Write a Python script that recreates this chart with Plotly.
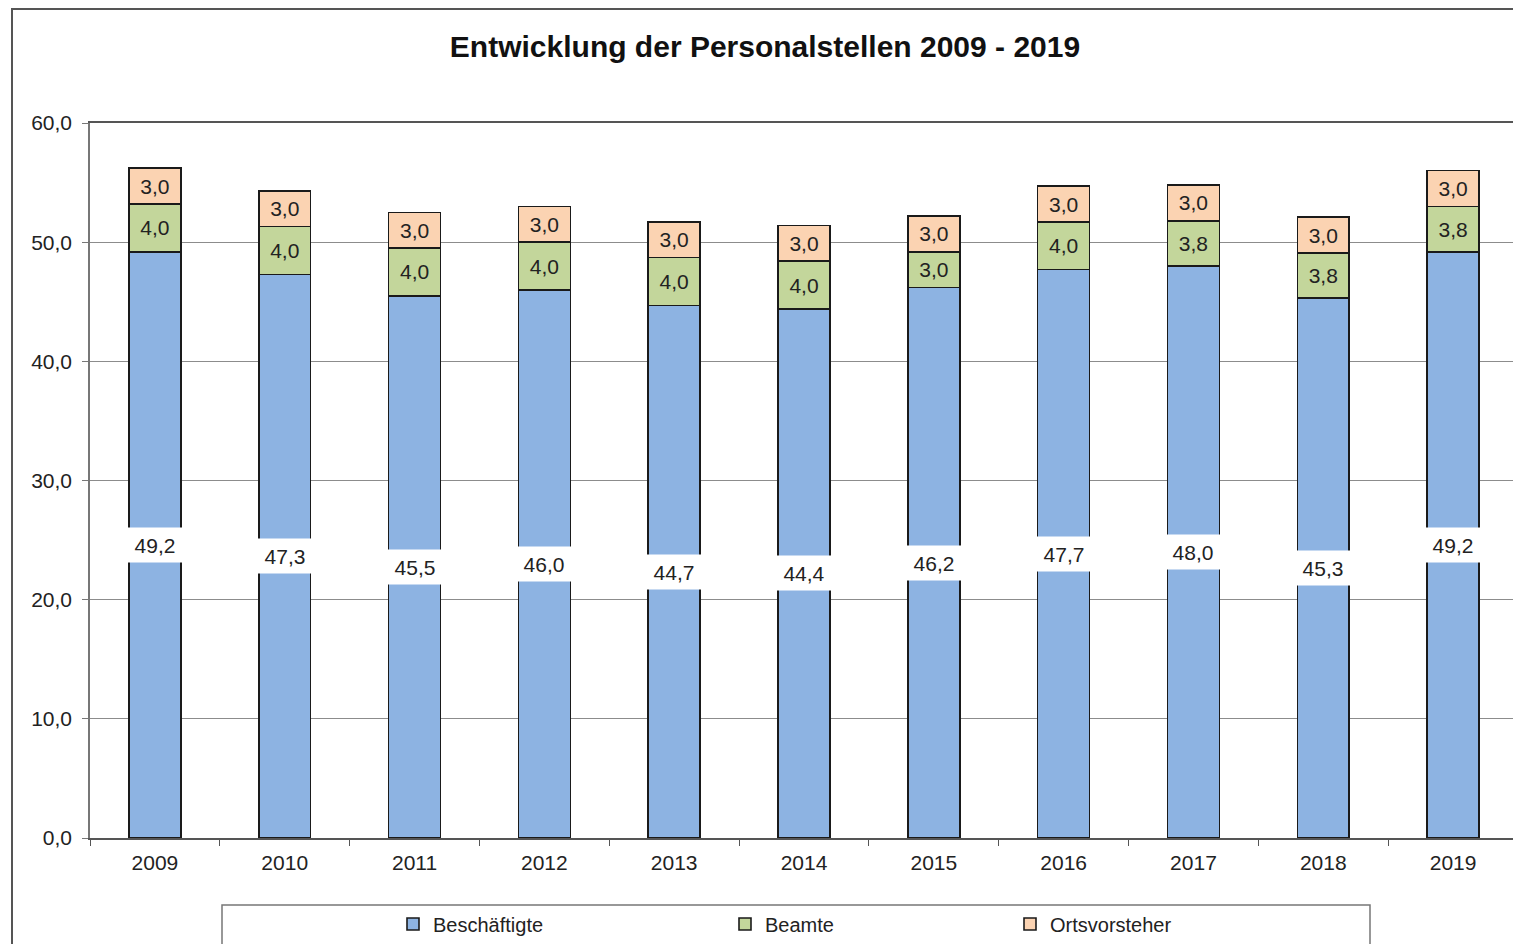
import plotly.graph_objects as go

years = ["2009", "2010", "2011", "2012", "2013", "2014", "2015", "2016", "2017", "2018", "2019"]
beschaeftigte = [49.2, 47.3, 45.5, 46.0, 44.7, 44.4, 46.2, 47.7, 48.0, 45.3, 49.2]
beamte = [4.0, 4.0, 4.0, 4.0, 4.0, 4.0, 3.0, 4.0, 3.8, 3.8, 3.8]
ortsvorsteher = [3.0, 3.0, 3.0, 3.0, 3.0, 3.0, 3.0, 3.0, 3.0, 3.0, 3.0]
y_ticks = [0, 10, 20, 30, 40, 50, 60]

FONT = "Liberation Sans, Arial, sans-serif"
TXT = "#222222"
line = dict(color="#1a1a1a", width=1.6)
LBL = dict(family=FONT, size=21, color=TXT)

fig = go.Figure()
fig.add_trace(go.Bar(x=years, y=beschaeftigte, name="Beschäftigte",
                     marker=dict(color="#8DB3E2", line=line), legend="legend", showlegend=True))
fig.add_trace(go.Bar(x=years, y=beamte, name="Beamte",
                     marker=dict(color="#C3D69B", line=line),
                     texttemplate="%{y:.1f}", textposition="inside", insidetextanchor="middle",
                     textfont=LBL, legend="legend2", showlegend=True))
fig.add_trace(go.Bar(x=years, y=ortsvorsteher, name="Ortsvorsteher",
                     marker=dict(color="#FBD3B2", line=line),
                     texttemplate="%{y:.1f}", textposition="inside", insidetextanchor="middle",
                     textfont=LBL, legend="legend3", showlegend=True))

# category axis: annotation x given as category index
for i, v in enumerate(beschaeftigte):
    fig.add_annotation(x=i, y=v / 2, xref="x", yref="y", text=f"{v:.1f}".replace(".", ","),
                       showarrow=False, bgcolor="white", width=58, height=32,
                       font=LBL)

# outer chart frame (top edge just inside the page) and legend frame
fig.add_shape(type="rect", xref="paper", yref="paper",
              x0=(12 - 90) / 1428, x1=(1530 - 90) / 1428,
              y0=(838 - 960) / 715, y1=(838 - 9) / 715,
              line=dict(color="#555555", width=2), fillcolor="rgba(0,0,0,0)", layer="below")
fig.add_shape(type="rect", xref="paper", yref="paper",
              x0=(222 - 90) / 1428, x1=(1370 - 90) / 1428,
              y0=(838 - 960) / 715, y1=(838 - 905) / 715,
              line=dict(color="#777777", width=1.5), fillcolor="rgba(0,0,0,0)")

leg = dict(orientation="h", yanchor="middle", xanchor="left", y=(838 - 924) / 715,
           bgcolor="rgba(0,0,0,0)", font=dict(family=FONT, size=20, color=TXT), itemwidth=30)

fig.update_layout(
    width=1513, height=936,
    margin=dict(l=82, r=3, t=115, b=106, autoexpand=False),
    paper_bgcolor="white", plot_bgcolor="white",
    barmode="stack", bargap=0.6,
    separators=",.",
    showlegend=True,
    title=dict(text="<b>Entwicklung der Personalstellen 2009 - 2019</b>", x=757 / 1513,
               xanchor="center", y=1 - 38 / 936, yanchor="middle",
               font=dict(family=FONT, size=30, color="#111111")),
    legend=dict(**leg, x=(393 - 90) / 1428),
    legend2=dict(**leg, x=(725 - 90) / 1428),
    legend3=dict(**leg, x=(1010 - 90) / 1428),
    xaxis=dict(type="category", range=[-0.5, len(years) - 0.5], showline=True,
               linecolor="#555555", linewidth=1.5, mirror=True,
               ticks="outside", tickson="boundaries", ticklen=6, tickcolor="#555555",
               tickfont=dict(family=FONT, size=21, color=TXT), showgrid=False, tickangle=0,
               ticklabelstandoff=5),
    yaxis=dict(range=[0, 60], tickvals=y_ticks, tickformat=".1f", showline=True,
               linecolor="#777777", linewidth=1.5, mirror=True, ticks="outside", ticklen=6,
               tickcolor="#777777", gridcolor="#8c8c8c", gridwidth=1.2, ticklabelstandoff=6,
               tickfont=dict(family=FONT, size=21, color=TXT), zeroline=False),
)

fig.write_html("out.html")
